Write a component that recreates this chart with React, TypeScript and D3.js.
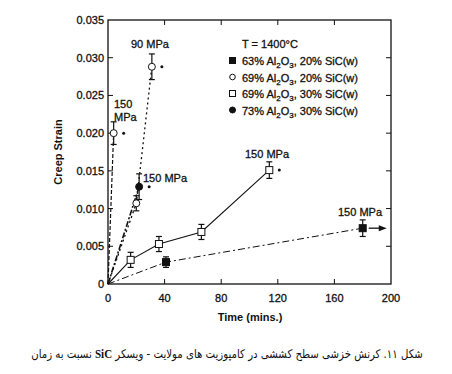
import { useLayoutEffect, useRef, useState } from "react";
import * as d3 from "d3";

const W = 452;
const H = 374;
const M = { top: 20, right: 61, bottom: 90, left: 108 };

const xTicks = [0, 40, 80, 120, 160, 200];
const yTicks = [0, 0.005, 0.01, 0.015, 0.02, 0.025, 0.03, 0.035];
const yTickLabels = ["0", "0.005", "0.010", "0.015", "0.020", "0.025", "0.030", "0.035"];

// each series: [time, strain, err, failed]
const sq63 = [
  [0, 0, 0, 0],
  [41, 0.0029, 0.0007, 0],
  [180, 0.0074, 0.0011, 0],
];
const sq63ArrowTo = 197;
const circ150 = [
  [0, 0, 0, 0],
  [4, 0.02, 0.0015, 1],
];
const circ90 = [
  [0, 0, 0, 0],
  [20, 0.0107, 0.001, 0],
  [31, 0.0288, 0.0017, 1],
];
const sq69 = [
  [0, 0, 0, 0],
  [16, 0.0032, 0.001, 0],
  [36, 0.0053, 0.001, 0],
  [66, 0.0069, 0.001, 0],
  [114, 0.0151, 0.0011, 1],
];
const dot73 = [
  [0, 0, 0, 0],
  [22, 0.0129, 0.0017, 1],
];

const legendItems = [
  { sym: "fsq", label: ["63% Al", "2", "O", "3", ", 20% SiC(w)"] },
  { sym: "ocirc", label: ["69% Al", "2", "O", "3", ", 20% SiC(w)"] },
  { sym: "osq", label: ["69% Al", "2", "O", "3", ", 30% SiC(w)"] },
  { sym: "fcirc", label: ["73% Al", "2", "O", "3", ", 30% SiC(w)"] },
];

const captionBefore = "شکل ۱۱. کرنش خزشی سطح کششی در کامپوزیت های مولایت - ویسکر ";
const captionSiC = "SiC";
const captionAfter = " نسبت به زمان";

const font = "Liberation Sans, Arial, sans-serif";
const CAP_CX = 227;
const CAP_W = 392;
// scanned print looks heavier than plain Liberation Sans
const ink = { fill: "#111", stroke: "#111", strokeWidth: 0.3 };

export default function App() {
  const iw = W - M.left - M.right;
  const ih = H - M.top - M.bottom;
  const x = d3.scaleLinear().domain([0, 200]).range([M.left, M.left + iw]);
  const y = d3.scaleLinear().domain([0, 0.035]).range([M.top + ih, M.top]);
  const line = d3
    .line<number[]>()
    .x((d) => x(d[0]))
    .y((d) => y(d[1]));

  const capRef = useRef<SVGTextElement>(null);
  const [capLen, setCapLen] = useState(0);
  useLayoutEffect(() => {
    if (capRef.current) setCapLen(capRef.current.getComputedTextLength());
  }, []);
  const capScale = capLen > 0 ? CAP_W / capLen : 1;

  const marker = (sym: string, cx: number, cy: number, k: number) => {
    if (sym === "fsq" || sym === "osq") {
      const s = 7;
      return (
        <rect key={k} x={cx - s / 2} y={cy - s / 2} width={s} height={s}
          fill={sym === "fsq" ? "#111" : "#fff"} stroke="#111" strokeWidth={1} />
      );
    }
    return (
      <circle key={k} cx={cx} cy={cy} r={3.5}
        fill={sym === "fcirc" ? "#111" : "#fff"} stroke="#111" strokeWidth={1} />
    );
  };

  const points = (data: number[][], sym: string) =>
    data.slice(1).map((d, i) => {
      const cx = x(d[0]);
      const cy = y(d[1]);
      const y0 = y(d[1] - d[2]);
      const y1 = y(d[1] + d[2]);
      return (
        <g key={sym + i}>
          <line x1={cx} x2={cx} y1={y0} y2={y1} stroke="#111" strokeWidth={1.2} />
          <line x1={cx - 3} x2={cx + 3} y1={y0} y2={y0} stroke="#111" strokeWidth={1.2} />
          <line x1={cx - 3} x2={cx + 3} y1={y1} y2={y1} stroke="#111" strokeWidth={1.2} />
          {marker(sym, cx, cy, i)}
          {d[3] ? <circle cx={cx + 10} cy={cy} r={1.5} fill="#111" /> : null}
        </g>
      );
    });

  const lastSq = sq63[sq63.length - 1];

  return (
    <svg width={W} height={H} style={{ position: "absolute", left: 0, top: 0, background: "#fff" }}
      fontFamily={font}>
      <rect x={0} y={0} width={W} height={H} fill="#fff" />
      {/* frame */}
      <rect x={M.left} y={M.top} width={iw} height={ih} fill="none" stroke="#111" strokeWidth={1.3} />
      {xTicks.slice(1, -1).map((t) => (
        <g key={"xt" + t}>
          <line x1={x(t)} x2={x(t)} y1={M.top + ih} y2={M.top + ih - 5} stroke="#111" />
          <line x1={x(t)} x2={x(t)} y1={M.top} y2={M.top + 5} stroke="#111" />
        </g>
      ))}
      {yTicks.slice(1, -1).map((t) => (
        <g key={"yt" + t}>
          <line x1={M.left} x2={M.left + 5} y1={y(t)} y2={y(t)} stroke="#111" />
          <line x1={M.left + iw} x2={M.left + iw - 5} y1={y(t)} y2={y(t)} stroke="#111" />
        </g>
      ))}
      {xTicks.map((t) => (
        <text key={"xl" + t} x={x(t)} y={M.top + ih + 18} textAnchor="middle" fontSize={11} {...ink}>
          {t}
        </text>
      ))}
      {yTicks.map((t, i) => (
        <text key={"yl" + t} x={M.left - 4} y={y(t) + 4} textAnchor="end" fontSize={11} {...ink}>
          {yTickLabels[i]}
        </text>
      ))}
      <text x={250} y={321} textAnchor="middle" fontSize={11} fontWeight="bold" fill="#111">
        Time (mins.)
      </text>
      <text transform="translate(62,152) rotate(-90)" textAnchor="middle" fontSize={11}
        fontWeight="bold" fill="#111">
        Creep Strain
      </text>

      {/* lines */}
      <path d={line(sq63) ?? ""} fill="none" stroke="#111" strokeWidth={1} strokeDasharray="7,3,2,3" />
      <path d={line(circ150) ?? ""} fill="none" stroke="#111" strokeWidth={1.2} strokeDasharray="4,2" />
      <path d={line(circ90) ?? ""} fill="none" stroke="#111" strokeWidth={1.3} strokeDasharray="2,3" />
      <path d={line(sq69) ?? ""} fill="none" stroke="#111" strokeWidth={1.1} />
      <path d={line(dot73) ?? ""} fill="none" stroke="#111" strokeWidth={1.6} strokeDasharray="6,2,2,2" />

      {/* arrow */}
      <line x1={x(lastSq[0]) + 6} x2={x(sq63ArrowTo) - 5} y1={y(lastSq[1])} y2={y(lastSq[1])}
        stroke="#111" strokeWidth={1.3} />
      <path d={`M${x(sq63ArrowTo)},${y(lastSq[1])} l-8,-3 l0,6 z`} fill="#111" />

      {points(sq63, "fsq")}
      {points(circ150, "ocirc")}
      {points(circ90, "ocirc")}
      {points(sq69, "osq")}
      {points(dot73, "fcirc")}

      {/* annotations */}
      <g fontSize={11} {...ink}>
        <text x={131} y={48}>90 MPa</text>
        <text x={114} y={108}>150</text>
        <text x={114} y={121}>MPa</text>
        <text x={143} y={182}>150 MPa</text>
        <text x={245} y={158}>150 MPa</text>
        <text x={338} y={216}>150 MPa</text>
      </g>

      {/* legend */}
      <g fontSize={11} {...ink}>
        <text x={242} y={48}>T = 1400°C</text>
        {legendItems.map((it, i) => {
          const ly = 61 + i * 16.5;
          const small = it.sym.includes("sq") ? (
            <rect x={229.5} y={ly - 3.5} width={6} height={6} strokeWidth={1}
              fill={it.sym === "fsq" ? "#111" : "#fff"} stroke="#111" />
          ) : (
            <circle cx={232.5} cy={ly - 0.5} r={it.sym === "fcirc" ? 3 : 2.8} strokeWidth={1}
              fill={it.sym === "fcirc" ? "#111" : "#fff"} stroke="#111" />
          );
          return (
            <g key={it.sym}>
              {small}
              <text x={242} y={ly + 4}>
                {it.label[0]}
                <tspan fontSize={8} dy={3}>{it.label[1]}</tspan>
                <tspan dy={-3}>{it.label[2]}</tspan>
                <tspan fontSize={8} dy={3}>{it.label[3]}</tspan>
                <tspan dy={-3}>{it.label[4]}</tspan>
              </text>
            </g>
          );
        })}
      </g>

      {/* caption, right-to-left, squeezed to the width it has in the picture */}
      <g transform={`translate(${CAP_CX},358) scale(${capScale},1)`} opacity={capLen ? 1 : 0}>
        <text ref={capRef} x={0} y={0} direction="rtl" unicodeBidi="embed" textAnchor="middle"
          fontSize={12} fill="#111" fontFamily="DejaVu Sans, sans-serif">
          {captionBefore}
          <tspan fontFamily="Liberation Serif, serif" fontWeight="bold" fontSize={13}>{captionSiC}</tspan>
          {captionAfter}
        </text>
      </g>
    </svg>
  );
}
